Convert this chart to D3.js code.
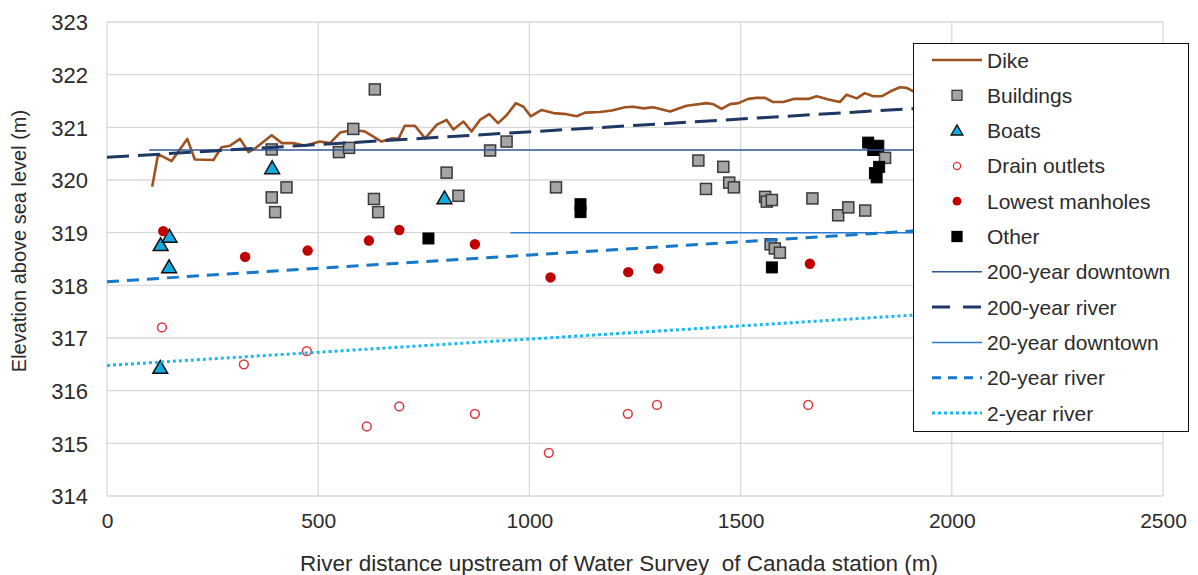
<!DOCTYPE html>
<html lang="en">
<head>
    <meta charset="UTF-8">
    <title>Elevation above sea level along the river</title>
    <script src="https://d3js.org/d3.v7.min.js"></script>
    <style>
        body { margin: 0; background: #fff; }
        svg text { font-family: "Liberation Sans", Arial, sans-serif; fill: #2b2b2b; }
    </style>
</head>
<body>
    <div id="chart"></div>

    <script>
        // Values: [distance (m), elevation (m)]
        const dike = [[107,319.87],[121,320.49],[153,320.36],[190,320.78],[208,320.39],[252,320.38],[271,320.62],
            [291,320.65],[315,320.78],[335,320.53],[354,320.62],[390,320.85],[414,320.70],[441,320.70],[469,320.65],
            [504,320.73],[528,320.70],[552,320.90],[583,320.95],[611,320.92],[650,320.73],[674,320.79],[690,320.78],
            [705,321.03],[729,321.03],[753,320.79],[781,321.05],[804,321.14],[820,320.96],[844,321.11],[863,320.92],
            [883,321.14],[905,321.25],[926,321.08],[946,321.23],[968,321.46],[986,321.39],[1003,321.21],[1029,321.33],
            [1057,321.27],[1088,321.25],[1112,321.21],[1132,321.28],[1167,321.29],[1195,321.32],[1226,321.38],
            [1246,321.39],[1270,321.36],[1293,321.38],[1333,321.30],[1372,321.41],[1420,321.46],[1435,321.44],
            [1455,321.35],[1475,321.44],[1495,321.46],[1518,321.54],[1538,321.56],[1558,321.56],[1577,321.48],
            [1601,321.48],[1625,321.54],[1660,321.54],[1680,321.59],[1708,321.53],[1735,321.48],[1751,321.62],
            [1775,321.55],[1794,321.65],[1814,321.59],[1834,321.59],[1854,321.68],[1877,321.76],[1893,321.75],
            [1910,321.68]];

        const buildings = [[634,321.72],[583,320.97],[390,320.58],[549,320.53],[573,320.61],[907,320.56],[804,320.14],
            [425,319.86],[390,319.67],[398,319.39],[632,319.64],[642,319.39],[832,319.70],[946,320.73],[1063,319.86],
            [1400,320.37],[1418,319.83],[1459,320.25],[1473,319.95],[1484,319.86],[1558,319.68],[1562,319.59],
            [1574,319.62],[1670,319.65],[1731,319.33],[1755,319.48],[1795,319.42],[1842,320.42],[1571,318.78],
            [1581,318.70],[1593,318.62]];

        const boats = [[391,320.22],[127,318.76],[148,318.92],[147,318.34],[799,319.65],[126,316.43]];

        const drains = [[130,317.20],[324,316.50],[473,316.75],[615,315.32],[692,315.70],[871,315.56],[1046,314.82],
            [1233,315.56],[1302,315.73],[1660,315.73]];

        const manholes = [[133,319.03],[327,318.54],[475,318.66],[620,318.85],[692,319.05],[871,318.78],[1050,318.15],
            [1234,318.25],[1305,318.32],[1664,318.41]];

        const other = [[761,318.89],[1121,319.54],[1121,319.39],[1574,318.34],[1802,320.71],[1826,320.65],
            [1814,320.57],[1828,320.25],[1818,320.13],[1822,320.05]];

        // flood levels, straight lines between end points
        const downtown200 = [[100,320.57],[2000,320.57]];
        const river200 = [[0,320.43],[2000,321.40]];
        const downtown20 = [[955,319.00],[2000,319.00]];
        const river20 = [[0,318.07],[2000,319.08]];
        const river2 = [[0,316.48],[2000,317.48]];

        const xTicks = [0, 500, 1000, 1500, 2000, 2500];
        const yTicks = [314, 315, 316, 317, 318, 319, 320, 321, 322, 323];

        const width = 1198, height = 575;
        const svg = d3.select("#chart").append("svg")
            .attr("width", width)
            .attr("height", height);

        const x = d3.scaleLinear().domain([0, 2500]).range([107, 1163]);
        const y = d3.scaleLinear().domain([314, 323]).range([496, 22]);

        // gridlines
        svg.append("g")
            .selectAll("line.h")
            .data(yTicks)
            .join("line")
            .attr("x1", x(0)).attr("x2", x(2500))
            .attr("y1", d => y(d)).attr("y2", d => y(d))
            .attr("stroke", "#d9d9d9").attr("stroke-width", 1.3);
        svg.append("g")
            .selectAll("line.v")
            .data(xTicks)
            .join("line")
            .attr("x1", d => x(d)).attr("x2", d => x(d))
            .attr("y1", y(314)).attr("y2", y(323))
            .attr("stroke", "#d9d9d9").attr("stroke-width", 1.3);

        // axes (labels only, Excel style)
        const yAxis = svg.append("g")
            .attr("transform", `translate(${x(0) - 19},0)`)
            .call(d3.axisLeft(y).tickValues(yTicks).tickSize(0).tickFormat(d3.format("d")));
        yAxis.select(".domain").remove();
        yAxis.selectAll("text").attr("font-size", "22px").attr("x", 0).attr("dy", "0.36em");

        const xAxis = svg.append("g")
            .attr("transform", `translate(0,${y(314) + 17})`)
            .call(d3.axisBottom(x).tickValues(xTicks).tickSize(0).tickFormat(d3.format("d")));
        xAxis.select(".domain").remove();
        xAxis.selectAll("text").attr("font-size", "21px").attr("y", 0).attr("dy", "0.71em");

        svg.append("text")
            .attr("x", 619).attr("y", 571)
            .attr("text-anchor", "middle")
            .attr("font-size", "22.5px")
            .style("white-space", "pre")
            .text("River distance upstream of Water Survey  of Canada station (m)");

        svg.append("text")
            .attr("transform", "translate(26,241) rotate(-90)")
            .attr("text-anchor", "middle")
            .attr("font-size", "20px")
            .text("Elevation above sea level (m)");

        const line = d3.line().x(d => x(d[0])).y(d => y(d[1]));

        // dike
        svg.append("path")
            .datum(dike)
            .attr("d", line)
            .attr("fill", "none")
            .attr("stroke", "#9e5220")
            .attr("stroke-width", 2.6)
            .attr("stroke-linejoin", "round");

        const squareSize = 11;
        svg.append("g")
            .selectAll("rect")
            .data(buildings)
            .join("rect")
            .attr("x", d => x(d[0]) - squareSize / 2)
            .attr("y", d => y(d[1]) - squareSize / 2)
            .attr("width", squareSize).attr("height", squareSize)
            .attr("fill", "#a5a5a5").attr("stroke", "#3a3a3a").attr("stroke-width", 1.5);

        const triangle = d3.symbol().type(d3.symbolTriangle).size(95);
        svg.append("g")
            .selectAll("path")
            .data(boats)
            .join("path")
            .attr("d", triangle)
            .attr("transform", d => `translate(${x(d[0])},${y(d[1]) + 1})`)
            .attr("fill", "#15a9e0").attr("stroke", "#111").attr("stroke-width", 1.5);

        svg.append("g")
            .selectAll("circle")
            .data(drains)
            .join("circle")
            .attr("cx", d => x(d[0])).attr("cy", d => y(d[1]))
            .attr("r", 4.4)
            .attr("fill", "#fff").attr("stroke", "#d9363a").attr("stroke-width", 1.5);

        svg.append("g")
            .selectAll("circle")
            .data(manholes)
            .join("circle")
            .attr("cx", d => x(d[0])).attr("cy", d => y(d[1]))
            .attr("r", 5.2)
            .attr("fill", "#c00000");

        svg.append("g")
            .selectAll("rect")
            .data(other)
            .join("rect")
            .attr("x", d => x(d[0]) - squareSize / 2)
            .attr("y", d => y(d[1]) - squareSize / 2)
            .attr("width", squareSize).attr("height", squareSize)
            .attr("fill", "#000").attr("stroke", "#000").attr("stroke-width", 1);

        // flood level lines
        const levels = [
            { data: downtown200, color: "#2f5597", width: 1.5, dash: null },
            { data: river200, color: "#1f3864", width: 3, dash: "22,9" },
            { data: downtown20, color: "#2e7dd0", width: 1.5, dash: null },
            { data: river20, color: "#1778c8", width: 3, dash: "12,8" },
            { data: river2, color: "#1ab8ee", width: 3, dash: "3,3" }
        ];
        levels.forEach(l => {
            svg.append("path")
                .datum(l.data)
                .attr("d", line)
                .attr("fill", "none")
                .attr("stroke", l.color)
                .attr("stroke-width", l.width)
                .attr("stroke-dasharray", l.dash);
        });

        // legend
        const legend = svg.append("g");
        legend.append("rect")
            .attr("x", 913.5).attr("y", 43.5)
            .attr("width", 275).attr("height", 388)
            .attr("fill", "#fff").attr("stroke", "#111").attr("stroke-width", 1);

        const legendItems = [
            { name: "Dike", kind: "line", color: "#9e5220", width: 2.6, dash: null },
            { name: "Buildings", kind: "square", fill: "#a5a5a5", stroke: "#3a3a3a" },
            { name: "Boats", kind: "triangle" },
            { name: "Drain outlets", kind: "open" },
            { name: "Lowest manholes", kind: "dot" },
            { name: "Other", kind: "square", fill: "#000", stroke: "#000" },
            { name: "200-year downtown", kind: "line", color: "#2f5597", width: 1.5, dash: null },
            { name: "200-year river", kind: "line", color: "#1f3864", width: 3, dash: "18,13" },
            { name: "20-year downtown", kind: "line", color: "#2e7dd0", width: 1.5, dash: null },
            { name: "20-year river", kind: "line", color: "#1778c8", width: 3, dash: "9,7" },
            { name: "2-year river", kind: "line", color: "#1ab8ee", width: 3, dash: "3,3" }
        ];

        legendItems.forEach((item, i) => {
            const cy = 60 + i * 35.3;
            const g = legend.append("g");
            if (item.kind === "line") {
                g.append("line")
                    .attr("x1", 932).attr("x2", 982)
                    .attr("y1", cy).attr("y2", cy)
                    .attr("stroke", item.color)
                    .attr("stroke-width", item.width)
                    .attr("stroke-dasharray", item.dash);
            } else if (item.kind === "square") {
                g.append("rect")
                    .attr("x", 957 - 5).attr("y", cy - 5)
                    .attr("width", 10).attr("height", 10)
                    .attr("fill", item.fill).attr("stroke", item.stroke).attr("stroke-width", 1.3);
            } else if (item.kind === "triangle") {
                g.append("path")
                    .attr("d", d3.symbol().type(d3.symbolTriangle).size(60))
                    .attr("transform", `translate(957,${cy + 1})`)
                    .attr("fill", "#15a9e0").attr("stroke", "#111").attr("stroke-width", 1.3);
            } else if (item.kind === "open") {
                g.append("circle")
                    .attr("cx", 957).attr("cy", cy).attr("r", 3.6)
                    .attr("fill", "#fff").attr("stroke", "#d9363a").attr("stroke-width", 1.3);
            } else if (item.kind === "dot") {
                g.append("circle")
                    .attr("cx", 957).attr("cy", cy).attr("r", 4.4)
                    .attr("fill", "#c00000");
            }
            g.append("text")
                .attr("x", 987).attr("y", cy + 7.5)
                .attr("font-size", "21px")
                .text(item.name);
        });
    </script>
</body>
</html>
